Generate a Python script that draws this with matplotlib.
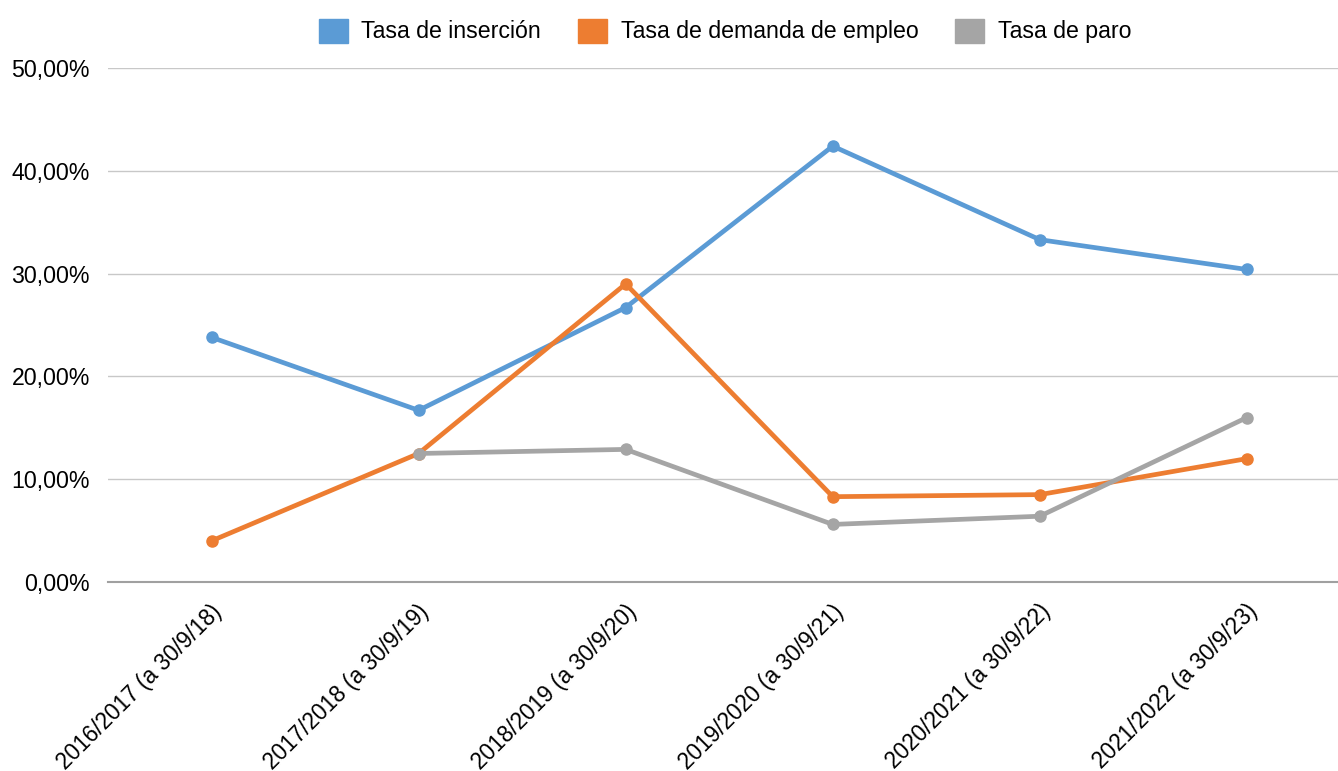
import matplotlib
matplotlib.use("Agg")
import matplotlib.pyplot as plt
import numpy as np
from matplotlib.ticker import FuncFormatter

plt.rcParams['font.family'] = ['Liberation Sans', 'DejaVu Sans']

categories = ["2016/2017 (a 30/9/18)", "2017/2018 (a 30/9/19)", "2018/2019 (a 30/9/20)",
              "2019/2020 (a 30/9/21)", "2020/2021 (a 30/9/22)", "2021/2022 (a 30/9/23)"]
insercion = [23.8, 16.7, 26.7, 42.4, 33.3, 30.4]
demanda = [4.0, 12.5, 29.0, 8.3, 8.5, 12.0]
paro = [np.nan, 12.5, 12.9, 5.6, 6.4, 16.0]

fig = plt.figure(figsize=(13.38, 7.71), dpi=100)
ax = fig.add_axes([108/1338, 1-582/771, 1-108/1338, (582-68)/771])

x = np.arange(len(categories))
series = [("Tasa de inserción", insercion, "#5B9BD5"),
          ("Tasa de demanda de empleo", demanda, "#ED7D31"),
          ("Tasa de paro", paro, "#A5A5A5")]
handles = []
for name, vals, col in series:
    ax.plot(x, vals, color=col, lw=3.4, marker='o', ms=8, zorder=3, solid_capstyle='round')
    handles.append(plt.Rectangle((0, 0), 1, 1, color=col, label=name))

ax.set_ylim(0, 50)
ax.set_xlim(-0.5, 5.44)
ax.set_yticks(np.arange(0, 51, 10))
ax.yaxis.set_major_formatter(FuncFormatter(lambda v, p: f"{v:.2f}%".replace('.', ',')))
ax.grid(axis='y', color='#C8C8C8', lw=1)
ax.set_axisbelow(True)
for s in ['left', 'right', 'top']:
    ax.spines[s].set_visible(False)
ax.spines['bottom'].set_color('#A0A0A0')
ax.spines['bottom'].set_linewidth(1.5)
ax.tick_params(axis='y', length=0, pad=13, labelsize=16.7)
ax.tick_params(axis='x', length=0, pad=13, labelsize=16.3)
ax.set_xticks(x)
ax.set_xticklabels(categories, rotation=45, ha='right', rotation_mode='anchor')
for lbl in ax.get_xticklabels():
    lbl.set_transform(lbl.get_transform() + matplotlib.transforms.ScaledTranslation(-1/100, 0, fig.dpi_scale_trans))

fig.legend(handles=handles, loc='center', bbox_to_anchor=(0.542, 1-31/771), ncol=3, frameon=False,
           fontsize=16.7, handlelength=1.22, handleheight=1.22, columnspacing=1.6, handletextpad=0.6)

fig.savefig("out.png", dpi=100)
